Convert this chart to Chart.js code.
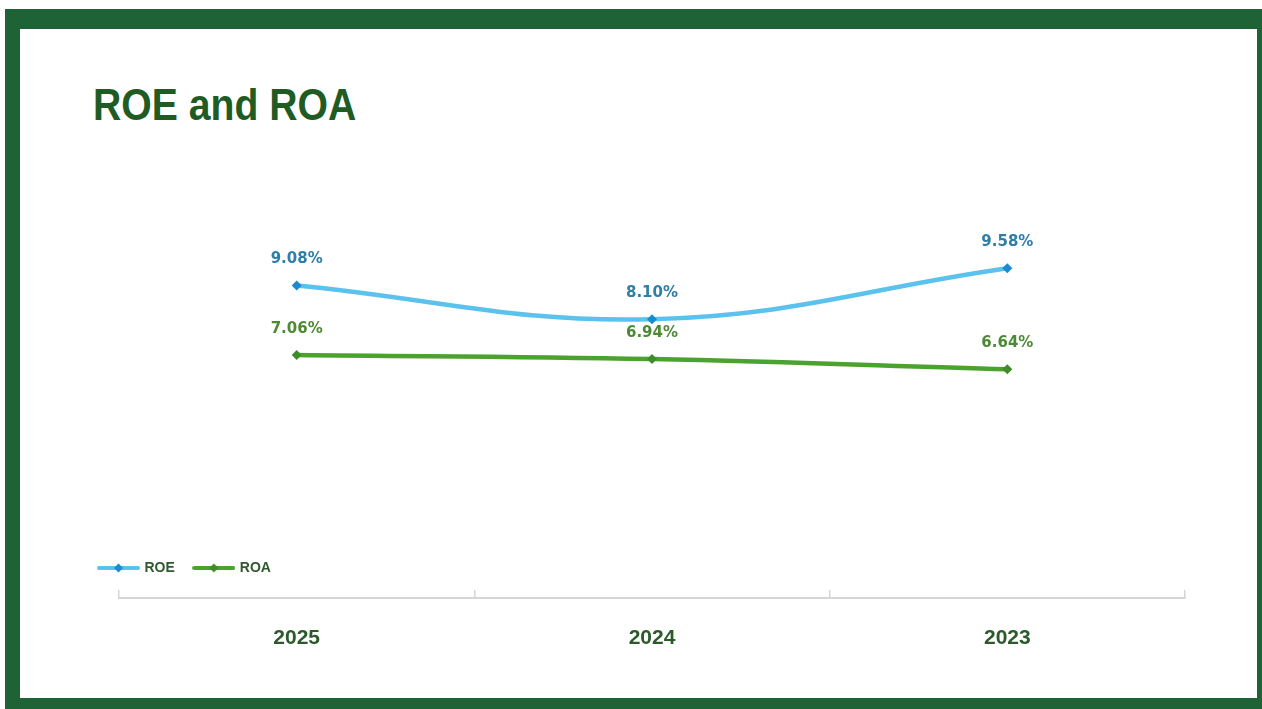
<!DOCTYPE html>
<html>
<head>
<meta charset="utf-8">
<script src="https://cdn.jsdelivr.net/npm/chart.js@4"></script>
<style>
  html, body { margin: 0; padding: 0; background: #ffffff; width: 1262px; height: 709px; overflow: hidden; }
  #frame { position: absolute; left: 5px; top: 9px; width: 1257px; height: 700px; background: #1e6335; }
  #inner { position: absolute; left: 20px; top: 29px; width: 1237px; height: 669px; background: #ffffff; }
  #title { position: absolute; left: 93px; top: 82px; margin: 0; font-family: "Liberation Sans", Arial, sans-serif; font-weight: bold; font-size: 45px; line-height: 45px; letter-spacing: 0; color: #1f5c24; white-space: nowrap; transform: scaleX(0.87); transform-origin: 0 0; }
  #chart { position: absolute; left: 20px; top: 29px; }
</style>
</head>
<body>
<div id="frame"></div>
<div id="inner"></div>
<h1 id="title">ROE and ROA</h1>
<canvas id="chart" width="1237" height="669"></canvas>
<script>
const categories = ['2025', '2024', '2023'];
const seriesNames = ['ROE', 'ROA'];
const roeValues = [9.08, 8.10, 9.58];
const roaValues = [7.06, 6.94, 6.64];

const lineColors = ['#5bc2ee', '#4ca22f'];
const markerColors = ['#1a8bcf', '#3e8d2a'];
const labelColors = ['#2f7ea8', '#4d8a35'];

function legendImage(lineColor, markerColor) {
  const c = document.createElement('canvas');
  c.width = 43; c.height = 12;
  const g = c.getContext('2d');
  g.strokeStyle = lineColor;
  g.lineWidth = 4;
  g.lineCap = 'round';
  g.beginPath(); g.moveTo(2, 6); g.lineTo(41, 6); g.stroke();
  g.fillStyle = markerColor;
  g.beginPath();
  g.moveTo(21.5, 1.5); g.lineTo(26, 6); g.lineTo(21.5, 10.5); g.lineTo(17, 6); g.closePath();
  g.fill();
  return c;
}
const legendImgs = [legendImage(lineColors[0], markerColors[0]), legendImage(lineColors[1], markerColors[1])];

const valueLabels = {
  id: 'valueLabels',
  afterDatasetsDraw(chart) {
    const ctx = chart.ctx;
    ctx.save();
    ctx.font = 'bold 15px "DejaVu Sans", Verdana, sans-serif';
    ctx.textAlign = 'center';
    ctx.textBaseline = 'middle';
    chart.data.datasets.forEach((ds, di) => {
      const meta = chart.getDatasetMeta(di);
      ctx.fillStyle = labelColors[di];
      meta.data.forEach((el, i) => {
        ctx.fillText(ds.data[i].toFixed(2) + '%', el.x, el.y - 26);
      });
    });
    ctx.restore();
  }
};

new Chart(document.getElementById('chart'), {
  type: 'line',
  data: {
    labels: categories,
    datasets: [
      {
        label: seriesNames[0],
        data: roeValues,
        borderColor: lineColors[0],
        backgroundColor: markerColors[0],
        borderWidth: 4.5,
        tension: 0.4,
        pointStyle: 'rectRot',
        pointRadius: 5,
        pointBackgroundColor: markerColors[0],
        pointBorderColor: markerColors[0],
        pointBorderWidth: 0,
        xAxisID: 'x'
      },
      {
        label: seriesNames[1],
        data: roaValues,
        borderColor: lineColors[1],
        backgroundColor: markerColors[1],
        borderWidth: 4.5,
        tension: 0.4,
        pointStyle: 'rectRot',
        pointRadius: 5,
        pointBackgroundColor: markerColors[1],
        pointBorderColor: markerColors[1],
        pointBorderWidth: 0,
        xAxisID: 'x'
      }
    ]
  },
  options: {
    responsive: false,
    animation: false,
    devicePixelRatio: 1,
    layout: { padding: { left: 59.5, right: 72, top: 156, bottom: 10.8 } },
    plugins: {
      title: { display: false },
      tooltip: { enabled: false },
      legend: {
        display: true,
        position: 'bottom',
        align: 'start',
        weight: -2,
        labels: {
          usePointStyle: true,
          pointStyleWidth: 38,
          padding: 20,
          color: '#2f5a2f',
          font: { size: 14, weight: 'bold', family: '"Liberation Sans", Arial, sans-serif' },
          generateLabels(chart) {
            return chart.data.datasets.map((ds, i) => ({
              text: ds.label,
              pointStyle: legendImgs[i],
              fillStyle: 'transparent',
              strokeStyle: 'transparent',
              lineWidth: 0,
              hidden: false,
              datasetIndex: i,
              fontColor: '#2f5a2f'
            }));
          }
        }
      }
    },
    scales: {
      x: {
        type: 'category',
        position: 'bottom',
        weight: 0,
        offset: true,
        grid: {
          display: true,
          drawOnChartArea: false,
          drawTicks: true,
          tickLength: -8,
          offset: true,
          color: '#d6d6d6',
          lineWidth: 1.5
        },
        border: { display: true, color: '#d6d6d6', width: 2 },
        ticks: {
          padding: 36,
          color: '#2d5a2b',
          font: { size: 21, weight: 'bold', family: '"Liberation Sans", Arial, sans-serif' }
        }
      },
      spacer: {
        type: 'category',
        position: 'bottom',
        weight: -1,
        display: true,
        grid: { display: false, drawTicks: false },
        border: { display: false },
        ticks: { display: false },
        afterFit(s) { s.height = 13; }
      },
      y: {
        type: 'linear',
        position: 'left',
        min: 1.65,
        max: 12,
        display: true,
        grid: { display: false, drawTicks: false },
        border: { display: false },
        ticks: { display: false },
        afterFit(s) { s.width = 39.5; }
      }
    }
  },
  plugins: [valueLabels]
});
</script>
</body>
</html>
